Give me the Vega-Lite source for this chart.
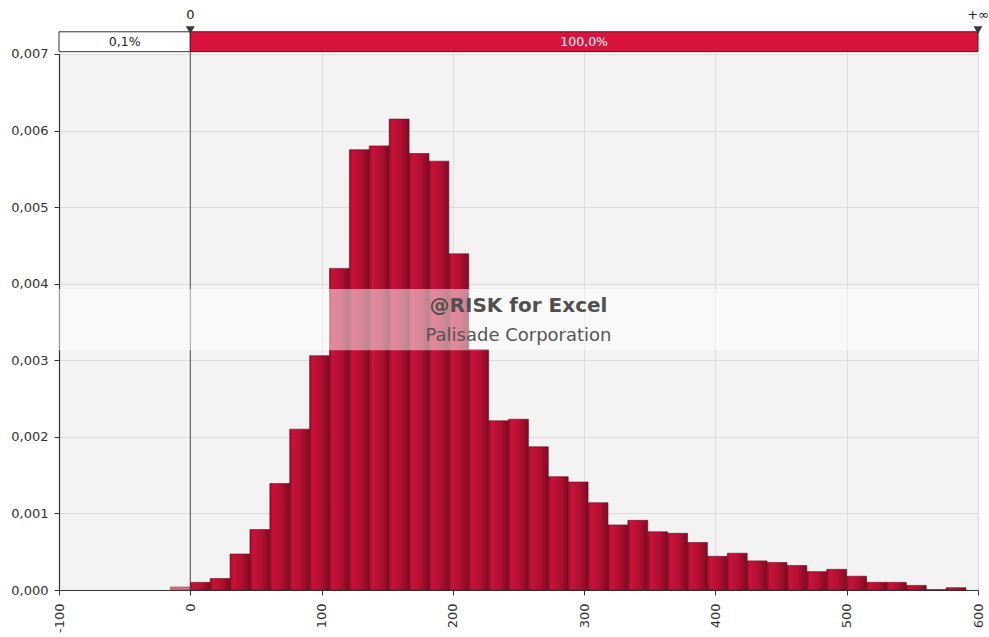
{
  "$schema": "https://vega.github.io/schema/vega-lite/v6.json",
  "autosize": {"type": "none"},
  "padding": {"left": 59, "top": 12, "right": 11, "bottom": 47},
  "width": 919,
  "height": 578,
  "background": "white",
  "view": {"fill": "#f3f3f3", "stroke": null},
  "config": {
    "font": "DejaVu Sans",
    "axis": {
      "labelFont": "DejaVu Sans",
      "labelFontSize": 13,
      "labelColor": "#333333",
      "domainColor": "#333333",
      "domainWidth": 1.2,
      "tickColor": "#333333",
      "gridColor": "#dcdcdc",
      "gridWidth": 1
    }
  },
  "datasets": {
    "regions": [
      {"start": -100, "end": 0, "side": "below", "share": "0,1%"},
      {"start": 0, "end": 600, "side": "inside", "share": "100,0%"}
    ],
    "delimiters": [
      {"at": 0, "label": "0"},
      {"at": 600, "label": "+∞"}
    ],
    "bins": [
      {"bin_start": -15.15, "bin_end": 0, "density": 0.00004, "region": "below"},
      {"bin_start": 0, "bin_end": 15.15, "density": 0.0001, "region": "inside"},
      {"bin_start": 15.15, "bin_end": 30.3, "density": 0.00015, "region": "inside"},
      {"bin_start": 30.3, "bin_end": 45.45, "density": 0.00047, "region": "inside"},
      {"bin_start": 45.45, "bin_end": 60.6, "density": 0.00079, "region": "inside"},
      {"bin_start": 60.6, "bin_end": 75.75, "density": 0.00139, "region": "inside"},
      {"bin_start": 75.75, "bin_end": 90.9, "density": 0.0021, "region": "inside"},
      {"bin_start": 90.9, "bin_end": 106.05, "density": 0.00306, "region": "inside"},
      {"bin_start": 106.05, "bin_end": 121.2, "density": 0.0042, "region": "inside"},
      {"bin_start": 121.2, "bin_end": 136.35, "density": 0.00575, "region": "inside"},
      {"bin_start": 136.35, "bin_end": 151.5, "density": 0.0058, "region": "inside"},
      {"bin_start": 151.5, "bin_end": 166.65, "density": 0.00615, "region": "inside"},
      {"bin_start": 166.65, "bin_end": 181.8, "density": 0.0057, "region": "inside"},
      {"bin_start": 181.8, "bin_end": 196.95, "density": 0.0056, "region": "inside"},
      {"bin_start": 196.95, "bin_end": 212.1, "density": 0.00439, "region": "inside"},
      {"bin_start": 212.1, "bin_end": 227.25, "density": 0.00314, "region": "inside"},
      {"bin_start": 227.25, "bin_end": 242.4, "density": 0.00221, "region": "inside"},
      {"bin_start": 242.4, "bin_end": 257.55, "density": 0.00223, "region": "inside"},
      {"bin_start": 257.55, "bin_end": 272.7, "density": 0.00187, "region": "inside"},
      {"bin_start": 272.7, "bin_end": 287.85, "density": 0.00148, "region": "inside"},
      {"bin_start": 287.85, "bin_end": 303, "density": 0.00141, "region": "inside"},
      {"bin_start": 303, "bin_end": 318.15, "density": 0.00114, "region": "inside"},
      {"bin_start": 318.15, "bin_end": 333.3, "density": 0.00085, "region": "inside"},
      {"bin_start": 333.3, "bin_end": 348.45, "density": 0.00091, "region": "inside"},
      {"bin_start": 348.45, "bin_end": 363.6, "density": 0.00076, "region": "inside"},
      {"bin_start": 363.6, "bin_end": 378.75, "density": 0.00074, "region": "inside"},
      {"bin_start": 378.75, "bin_end": 393.9, "density": 0.00062, "region": "inside"},
      {"bin_start": 393.9, "bin_end": 409.05, "density": 0.00044, "region": "inside"},
      {"bin_start": 409.05, "bin_end": 424.2, "density": 0.00048, "region": "inside"},
      {"bin_start": 424.2, "bin_end": 439.35, "density": 0.00038, "region": "inside"},
      {"bin_start": 439.35, "bin_end": 454.5, "density": 0.00036, "region": "inside"},
      {"bin_start": 454.5, "bin_end": 469.65, "density": 0.00032, "region": "inside"},
      {"bin_start": 469.65, "bin_end": 484.8, "density": 0.00024, "region": "inside"},
      {"bin_start": 484.8, "bin_end": 499.95, "density": 0.00027, "region": "inside"},
      {"bin_start": 499.95, "bin_end": 515.1, "density": 0.00018, "region": "inside"},
      {"bin_start": 515.1, "bin_end": 530.25, "density": 0.0001, "region": "inside"},
      {"bin_start": 530.25, "bin_end": 545.4, "density": 0.0001, "region": "inside"},
      {"bin_start": 545.4, "bin_end": 560.55, "density": 0.00006, "region": "inside"},
      {"bin_start": 560.55, "bin_end": 575.7, "density": 0.000005, "region": "inside"},
      {"bin_start": 575.7, "bin_end": 590.85, "density": 0.00003, "region": "inside"}
    ]
  },
  "layer": [
    {
      "data": {"name": "bins"},
      "transform": [{"filter": "datum.region == 'inside'"}],
      "mark": {
        "type": "rect",
        "stroke": "#6e0a1e",
        "strokeWidth": 0.6,
        "fill": {
          "gradient": "linear",
          "x1": 0, "y1": 0, "x2": 1, "y2": 0,
          "stops": [
            {"offset": 0, "color": "#960c28"},
            {"offset": 0.15, "color": "#c91237"},
            {"offset": 0.6, "color": "#b00f31"},
            {"offset": 1, "color": "#7e0a22"}
          ]
        }
      },
      "encoding": {
        "x": {
          "field": "bin_start", "type": "quantitative",
          "scale": {"domain": [-100, 600], "nice": false, "zero": false},
          "axis": {
            "values": [-100, 0, 100, 200, 300, 400, 500, 600],
            "labelExpr": "'' + datum.value",
            "labelAngle": 270,
            "labelPadding": 8,
            "tickSize": 5,
            "grid": true,
            "title": null
          }
        },
        "x2": {"field": "bin_end"},
        "y": {
          "field": "density", "type": "quantitative",
          "scale": {"domain": [0, 0.0075485], "nice": false},
          "axis": {
            "values": [0, 0.001, 0.002, 0.003, 0.004, 0.005, 0.006, 0.007],
            "labelExpr": "replace(format(datum.value, '.3f'), '.', ',')",
            "labelPadding": 6,
            "tickSize": 5,
            "grid": true,
            "title": null
          }
        },
        "y2": {"datum": 0}
      }
    },
    {
      "data": {"name": "bins"},
      "transform": [{"filter": "datum.region == 'below'"}],
      "mark": {"type": "rect", "fill": "#cf7488", "stroke": "#a3283f", "strokeWidth": 0.5},
      "encoding": {
        "x": {"field": "bin_start", "type": "quantitative"},
        "x2": {"field": "bin_end"},
        "y": {"field": "density", "type": "quantitative"},
        "y2": {"datum": 0}
      }
    },
    {
      "data": {"values": [{}]},
      "mark": {"type": "rect", "fill": "#ffffff"},
      "encoding": {
        "x": {"datum": -101, "type": "quantitative"},
        "x2": {"datum": 601},
        "y": {"datum": 0.007, "type": "quantitative"},
        "y2": {"datum": 0.0075485}
      }
    },
    {
      "data": {"name": "delimiters"},
      "transform": [{"filter": "datum.at == 0"}],
      "mark": {"type": "rule", "color": "#4a4a4a", "strokeWidth": 1},
      "encoding": {
        "x": {"field": "at", "type": "quantitative"},
        "y": {"datum": 0, "type": "quantitative"},
        "y2": {"datum": 0.00729}
      }
    },
    {
      "data": {"name": "regions"},
      "mark": {"type": "rect", "strokeWidth": 1},
      "encoding": {
        "x": {"field": "start", "type": "quantitative"},
        "x2": {"field": "end"},
        "y": {"datum": 0.00703, "type": "quantitative"},
        "y2": {"datum": 0.00729},
        "fill": {"field": "side", "type": "nominal", "scale": {"domain": ["below", "inside"], "range": ["#ffffff", "#d8143c"]}, "legend": null},
        "stroke": {"field": "side", "type": "nominal", "scale": {"domain": ["below", "inside"], "range": ["#333333", "#5e0e1c"]}, "legend": null}
      }
    },
    {
      "data": {"name": "regions"},
      "transform": [{"calculate": "(datum.start + datum.end) / 2", "as": "mid"}],
      "mark": {"type": "text", "fontSize": 12.5, "baseline": "middle", "align": "center"},
      "encoding": {
        "x": {"field": "mid", "type": "quantitative"},
        "y": {"datum": 0.00716, "type": "quantitative"},
        "text": {"field": "share"},
        "color": {"field": "side", "type": "nominal", "scale": {"domain": ["below", "inside"], "range": ["#222222", "#ffffff"]}, "legend": null}
      }
    },
    {
      "data": {"name": "delimiters"},
      "mark": {"type": "point", "shape": "triangle-down", "filled": true, "size": 80, "color": "#3a3a3a", "opacity": 1},
      "encoding": {
        "x": {"field": "at", "type": "quantitative"},
        "y": {"datum": 0.007313, "type": "quantitative"}
      }
    },
    {
      "data": {"name": "delimiters"},
      "mark": {"type": "text", "fontSize": 13, "baseline": "middle", "align": "center", "color": "#222222"},
      "encoding": {
        "x": {"field": "at", "type": "quantitative"},
        "y": {"datum": 0.007509, "type": "quantitative"},
        "text": {"field": "label"}
      }
    },
    {
      "data": {"values": [{}]},
      "mark": {"type": "rect", "fill": "#ffffff", "opacity": 0.5},
      "encoding": {
        "x": {"datum": -100, "type": "quantitative"},
        "x2": {"datum": 600},
        "y": {"datum": 0.00313, "type": "quantitative"},
        "y2": {"datum": 0.00393}
      }
    },
    {
      "data": {"values": [{}]},
      "mark": {"type": "text", "text": "@RISK for Excel", "fontSize": 20, "fontWeight": "bold", "color": "#505050", "align": "center", "baseline": "middle"},
      "encoding": {
        "x": {"datum": 250, "type": "quantitative"},
        "y": {"datum": 0.00371, "type": "quantitative"}
      }
    },
    {
      "data": {"values": [{}]},
      "mark": {"type": "text", "text": "Palisade Corporation", "fontSize": 18, "color": "#555555", "align": "center", "baseline": "middle"},
      "encoding": {
        "x": {"datum": 250, "type": "quantitative"},
        "y": {"datum": 0.00332, "type": "quantitative"}
      }
    }
  ]
}
